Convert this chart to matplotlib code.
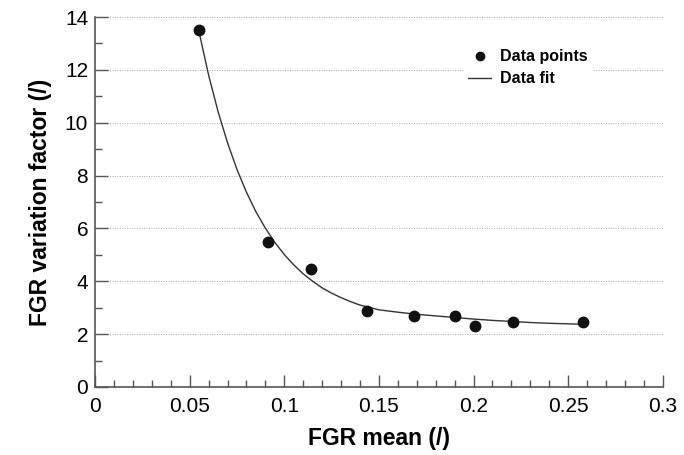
import matplotlib.pyplot as plt
from matplotlib.ticker import MultipleLocator

plt.rcParams['font.family'] = ['Liberation Sans', 'DejaVu Sans']

# measured points
fgr_mean = [0.0549, 0.0914, 0.114, 0.1435, 0.1685, 0.190, 0.2007, 0.2208, 0.258]
variation = [13.51, 5.49, 4.46, 2.88, 2.70, 2.69, 2.31, 2.46, 2.46]

# fit curve
fit_x = [0.055, 0.060, 0.065, 0.070, 0.075, 0.080, 0.085, 0.090, 0.095, 0.100,
         0.105, 0.110, 0.115, 0.120, 0.125, 0.130, 0.135, 0.140, 0.150, 0.160,
         0.170, 0.180, 0.190, 0.200, 0.210, 0.220, 0.230, 0.240, 0.250, 0.258]
fit_y = [13.42, 11.80, 10.42, 9.24, 8.23, 7.37, 6.63, 6.01, 5.47, 5.01,
         4.62, 4.28, 4.00, 3.75, 3.55, 3.38, 3.23, 3.10, 2.92, 2.83,
         2.75, 2.69, 2.63, 2.57, 2.52, 2.48, 2.44, 2.41, 2.39, 2.37]

x_ticks = [0, 0.05, 0.1, 0.15, 0.2, 0.25, 0.3]
x_labels = ['0', '0.05', '0.1', '0.15', '0.2', '0.25', '0.3']
y_ticks = [0, 2, 4, 6, 8, 10, 12, 14]

fig = plt.figure(figsize=(6.84, 4.55), dpi=100)
ax = fig.add_axes([0.139, 0.1495, 0.830, 0.813])

ax.plot(fit_x, fit_y, color='#333333', lw=1.0, label='Data fit', zorder=2)
ax.plot(fgr_mean, variation, 'o', color='#111111', ms=7.5, label='Data points', zorder=3)

ax.set_xlim(0, 0.3)
ax.set_ylim(0, 14)
ax.set_xticks(x_ticks)
ax.set_xticklabels(x_labels)
ax.set_yticks(y_ticks)
ax.set_yticklabels([str(v) for v in y_ticks])
ax.xaxis.set_minor_locator(MultipleLocator(0.01))
ax.yaxis.set_minor_locator(MultipleLocator(1))

for s in ['top', 'right']:
    ax.spines[s].set_visible(False)
for s in ['left', 'bottom']:
    ax.spines[s].set_color('#555555')
    ax.spines[s].set_linewidth(1.2)

ax.tick_params(which='major', direction='in', length=9, width=1.0, color='#555555',
               labelsize=15, pad=7)
ax.tick_params(which='minor', direction='in', length=5, width=1.0, color='#555555')
ax.tick_params(axis='y', pad=5)
ax.grid(axis='y', which='major', linestyle=(0, (1, 1.5)), color='#aaaaaa', lw=0.7)
ax.set_axisbelow(True)

ax.set_xlabel('FGR mean (/)', fontsize=16.5, fontweight='bold', labelpad=8)
ax.set_ylabel('FGR variation factor (/)', fontsize=16.5, fontweight='bold', labelpad=9)

handles, labels = ax.get_legend_handles_labels()
leg = ax.legend(handles[::-1], labels[::-1], loc='upper left', bbox_to_anchor=(0.635, 0.947),
                frameon=True, framealpha=1, edgecolor='none',
                prop={'weight': 'bold', 'size': 11.5}, handlelength=1.4,
                labelspacing=0.42, borderpad=0.3, handletextpad=0.6, markerscale=0.8)

fig.savefig('out.png', dpi=100)
